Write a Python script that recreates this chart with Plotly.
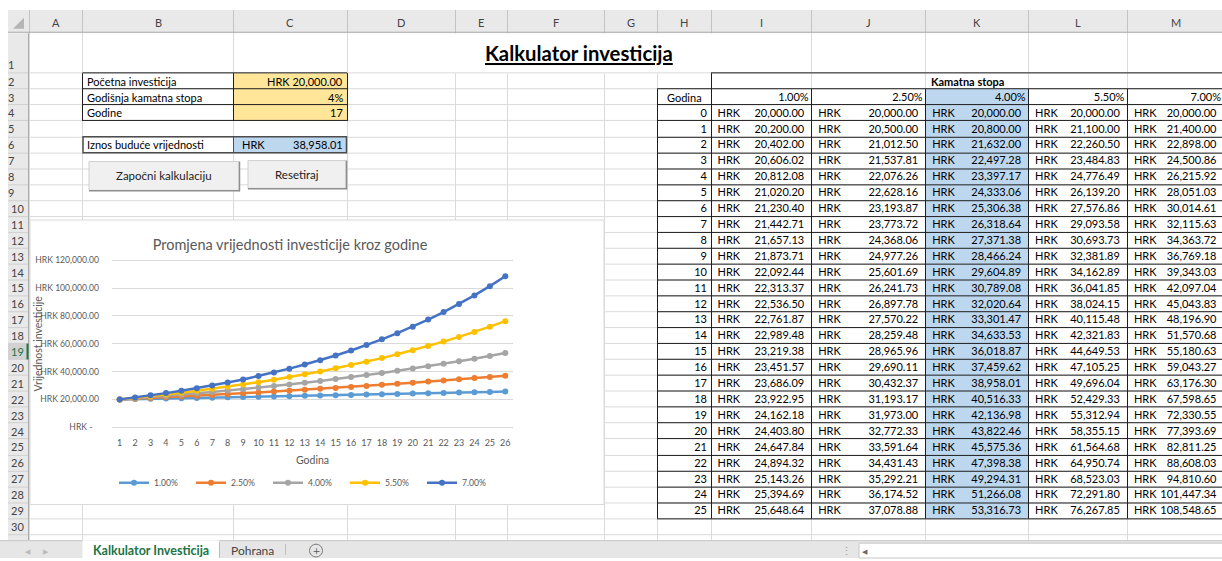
import plotly.graph_objects as go

W, H = 1222, 561

# ---------------- data ----------------
years = [0, 1, 2, 3, 4, 5, 6, 7, 8, 9, 10, 11, 12, 13, 14, 15, 16, 17, 18, 19, 20, 21, 22, 23, 24, 25]
chart_x = [1, 2, 3, 4, 5, 6, 7, 8, 9, 10, 11, 12, 13, 14, 15, 16, 17, 18, 19, 20, 21, 22, 23, 24, 25, 26]
rate_labels = ["1.00%", "2.50%", "4.00%", "5.50%", "7.00%"]

v100 = [20000.00, 20200.00, 20402.00, 20606.02, 20812.08, 21020.20, 21230.40, 21442.71, 21657.13,
        21873.71, 22092.44, 22313.37, 22536.50, 22761.87, 22989.48, 23219.38, 23451.57, 23686.09,
        23922.95, 24162.18, 24403.80, 24647.84, 24894.32, 25143.26, 25394.69, 25648.64]
v250 = [20000.00, 20500.00, 21012.50, 21537.81, 22076.26, 22628.16, 23193.87, 23773.72, 24368.06,
        24977.26, 25601.69, 26241.73, 26897.78, 27570.22, 28259.48, 28965.96, 29690.11, 30432.37,
        31193.17, 31973.00, 32772.33, 33591.64, 34431.43, 35292.21, 36174.52, 37078.88]
v400 = [20000.00, 20800.00, 21632.00, 22497.28, 23397.17, 24333.06, 25306.38, 26318.64, 27371.38,
        28466.24, 29604.89, 30789.08, 32020.64, 33301.47, 34633.53, 36018.87, 37459.62, 38958.01,
        40516.33, 42136.98, 43822.46, 45575.36, 47398.38, 49294.31, 51266.08, 53316.73]
v550 = [20000.00, 21100.00, 22260.50, 23484.83, 24776.49, 26139.20, 27576.86, 29093.58, 30693.73,
        32381.89, 34162.89, 36041.85, 38024.15, 40115.48, 42321.83, 44649.53, 47105.25, 49696.04,
        52429.33, 55312.94, 58355.15, 61564.68, 64950.74, 68523.03, 72291.80, 76267.85]
v700 = [20000.00, 21400.00, 22898.00, 24500.86, 26215.92, 28051.03, 30014.61, 32115.63, 34363.72,
        36769.18, 39343.03, 42097.04, 45043.83, 48196.90, 51570.68, 55180.63, 59043.27, 63176.30,
        67598.65, 72330.55, 77393.69, 82811.25, 88608.03, 94810.60, 101447.34, 108548.65]
series = [v100, v250, v400, v550, v700]

y_tick_vals = [0, 20000, 40000, 60000, 80000, 100000, 120000]
y_tick_text = ["HRK -\u00a0\u00a0\u00a0", "HRK 20,000.00", "HRK 40,000.00", "HRK 60,000.00",
               "HRK 80,000.00", "HRK 100,000.00", "HRK 120,000.00"]

input_labels = ["Početna investicija", "Godišnja kamatna stopa", "Godine"]
input_values = ["HRK 20,000.00", "4%", "17"]
result_label = "Iznos buduće vrijednosti"
result_value = "38,958.01"

col_letters = ["A", "B", "C", "D", "E", "F", "G", "H", "I", "J", "K", "L", "M"]

# ---------------- geometry / style ----------------
FONT = "Lato, 'Open Sans', sans-serif"
series_colors = ["#5B9BD5", "#ED7D31", "#A5A5A5", "#FFC000", "#4472C4"]
col_edges = [29, 82.5, 233.5, 347, 455, 507.5, 604, 657, 711, 811.7, 925.7, 1028.6, 1127.4, 1224]
HDR_TOP, HDR_BOT = 8, 31.5
TAB_TOP = 543
GRID = "#DADADA"
HDR_BG = "#E9E9E9"


def rb(r):
    return 71.8 + (r - 1) * 16.05


def rt(r):
    return HDR_BOT if r == 1 else rb(r - 1)


def rm(r):
    return (rt(r) + rb(r)) / 2


def P(x):
    return x / W


def Q(y):
    return 1 - y / H


shapes = []


def rect(x0, y0, x1, y1, fill=None, line=None, lw=1):
    shapes.append(dict(type="rect", xref="paper", yref="paper", layer="below",
                       x0=P(x0), x1=P(x1), y0=Q(y1), y1=Q(y0),
                       fillcolor=fill or "rgba(0,0,0,0)",
                       line=dict(color=line or "rgba(0,0,0,0)", width=lw if line else 0)))


def snap(v):
    return int(v) + 0.5


def hline(x0, x1, y, color, lw=1):
    y = snap(y)
    shapes.append(dict(type="line", xref="paper", yref="paper", layer="below",
                       x0=P(x0), x1=P(x1), y0=Q(y), y1=Q(y), line=dict(color=color, width=lw)))


def vline(x, y0, y1, color, lw=1):
    x = snap(x)
    shapes.append(dict(type="line", xref="paper", yref="paper", layer="below",
                       x0=P(x), x1=P(x), y0=Q(y0), y1=Q(y1), line=dict(color=color, width=lw)))


annotations = []


def text(x, y, s, size=11, color="#000000", anchor="left", bold=False, angle=0):
    if bold:
        s = "<b>" + s + "</b>"
    annotations.append(dict(xref="x2", yref="y2", x=x, y=y, text=s, showarrow=False,
                            xanchor=anchor, yanchor="middle", textangle=angle,
                            font=dict(family=FONT, size=size, color=color), borderpad=0))


# ---- headers ----
rect(8, HDR_TOP, W, HDR_BOT, HDR_BG)
rect(8, HDR_BOT, 29, TAB_TOP, HDR_BG)
rect(8, rt(19), 29, rb(19), "#D2D2D2")

# ---- gridlines ----
for r in range(1, 32):
    hline(29, W, rb(r), GRID)
for i, x in enumerate(col_edges):
    if 347 < x < 811:
        vline(x, rb(1), TAB_TOP, GRID)
    else:
        vline(x, HDR_BOT, TAB_TOP, GRID)

# header separators
for x in col_edges:
    vline(x, HDR_TOP, HDR_BOT, "#C4C4C4")
hline(8, W, HDR_BOT - 1, "#ABABAB")
vline(28, HDR_BOT, TAB_TOP, "#ABABAB")
for r in range(1, 32):
    hline(8, 28, rb(r), "#D0D0D0")
vline(27.5, rt(19), rb(19), "#217346", 2)
shapes.append(dict(type="path", xref="paper", yref="paper", layer="below",
                   path="M {0} {1} L {0} {2} L {3} {2} Z".format(P(24), Q(16), Q(27), P(13)),
                   fillcolor="#B5B5B5", line=dict(width=0)))

# ---- fills ----
rect(233.5, rt(2), 347, rb(4), "#FFE699")
rect(233.5, rt(6), 347, rb(6), "#BDD7EE")
rect(925.7, rt(3), 1028.6, rb(29), "#BDD7EE")

# ---- borders: input block ----
BLK = "#1E1E1E"
for r in (2, 3, 4):
    hline(82.5, 347, rt(r), BLK)
hline(82.5, 347, rb(4), BLK)
for x in (82.5, 233.5, 347):
    vline(x, rt(2), rb(4), BLK)
rect(83, rt(6), 346.5, rb(6), None, "#4D4D4D", 1.5)
vline(233.5, rt(6), rb(6), "#4D4D4D")

# ---- borders: table ----
hline(711, W, rt(2), BLK)
for r in range(3, 30):
    hline(657, W, rt(r), BLK)
hline(657, W, rb(29), BLK)
vline(657, rt(3), rb(29), BLK)
vline(711, rt(2), rb(29), BLK)
for x in (811.7, 925.7, 1028.6, 1127.4):
    vline(x, rt(3), rb(29), BLK)

# ---- buttons ----
for (x0, y0, x1, y1) in [(89, 161, 239, 190), (248, 160, 346, 188)]:
    rect(x0, y0, x1, y1, "#F0F0F0", "#CFCFCF", 1)
    hline(x0, x1 + 1, y1, "#8F8F8F", 1.5)
    vline(x1, y0, y1 + 1, "#8F8F8F", 1.5)

# ---- chart area ----
rect(30, 220, 604, 507, "#FFFFFF", "#D9D9D9", 1)

# ---- sheet tab bar ----
rect(0, TAB_TOP, W, H, "#E6E6E6")
hline(0, W, TAB_TOP, "#C8C8C8")
rect(82.5, TAB_TOP, 219, H, "#FFFFFF")
vline(219, TAB_TOP + 2, H, "#BDBDBD")
vline(285, TAB_TOP + 4, H - 3, "#BDBDBD")
shapes.append(dict(type="circle", xref="paper", yref="paper", layer="below",
                   x0=P(309.5), x1=P(322.5), y0=Q(560), y1=Q(547),
                   line=dict(color="#7A7A7A", width=1), fillcolor="rgba(0,0,0,0)"))
rect(859, 546, W + 2, H, "#FFFFFF", "#C6C6C6", 1)

# ---------------- texts ----------------
# column letters
for i, c in enumerate(col_letters):
    text((col_edges[i] + col_edges[i + 1]) / 2, 20.5, c, 11, "#444444", "center")
# row numbers
for r in range(1, 31):
    yy = rb(1) - 9 if r == 1 else rm(r)
    xx = 11 if r < 10 else 17.5
    text(xx, yy, str(r), 11, "#217346" if r == 19 else "#444444", "center")

# title
text(579, 51, "<span style='text-decoration:underline'>Kalkulator investicija</span>",
     20.3, "#000000", "center", bold=True)

# input block
for i, (lab, val) in enumerate(zip(input_labels, input_values)):
    text(86, rm(2 + i), lab, 11)
    text(344, rm(2 + i), val, 11, anchor="right")
text(86, rm(6), result_label, 11)
text(241, rm(6), "HRK", 11)
text(344, rm(6), result_value, 11, anchor="right")

# buttons
text(164, 175.5, "Započni kalkulaciju", 11.5, "#222222", "center")
text(297, 174, "Resetiraj", 11.5, "#222222", "center")

# table headers
text(967.5, rm(2), "Kamatna stopa", 11, anchor="center", bold=True)
text(684, rm(3), "Godina", 11, anchor="center")

# tabs
text(150.5, 553.5, "Kalkulator Investicija", 12.5, "#217346", "center", bold=True)
text(252, 553.5, "Pohrana", 12, "#444444", "center")
text(316, 553, "+", 12, "#6A6A6A", "center")
text(28, 553.5, "◀", 7, "#BBBBBB", "center")
text(46, 553.5, "▶", 7, "#BBBBBB", "center")
text(846, 553.5, "⋮", 11, "#9A9A9A", "center")
text(865, 553.5, "◀", 7, "#6A6A6A", "center")

# chart y-axis title
text(37.5, 345, "Vrijednost investicije", 10.5, "#595959", "center", angle=-90)

fig = go.Figure()

# ---------------- chart ----------------
for lab, vals, col in zip(rate_labels, series, series_colors):
    fig.add_trace(go.Scatter(x=chart_x, y=vals, mode="lines+markers", name=lab,
                             line=dict(color=col, width=2.5),
                             marker=dict(size=6, color=col),
                             xaxis="x", yaxis="y", hoverinfo="skip"))

# ---------------- table cells ----------------
rate_cols = [(col_edges[8], col_edges[9]), (col_edges[9], col_edges[10]), (col_edges[10], col_edges[11]),
             (col_edges[11], col_edges[12]), (col_edges[12], col_edges[13])]
hx, hy, ht, nx, ny, nt = [], [], [], [], [], []
for (c0, c1), vals in zip(rate_cols, series):
    for yr, v in zip(years, vals):
        r = 4 + yr
        hx.append(c0 + 6.5)
        hy.append(rm(r) + 1)
        ht.append("HRK")
        nx.append(c1 - 7.5)
        ny.append(rm(r) + 1)
        nt.append(f"{v:,.2f}")

cell_font = dict(family=FONT, size=11, color="#000000")
fig.add_trace(go.Scatter(x=hx, y=hy, text=ht, mode="text", textposition="middle right",
                         textfont=cell_font, xaxis="x2", yaxis="y2", showlegend=False,
                         hoverinfo="skip", cliponaxis=False))
fig.add_trace(go.Scatter(x=nx, y=ny, text=nt, mode="text", textposition="middle left",
                         textfont=cell_font, xaxis="x2", yaxis="y2", showlegend=False,
                         hoverinfo="skip", cliponaxis=False))
fig.add_trace(go.Scatter(x=[707] * len(years), y=[rm(4 + yr) + 1 for yr in years],
                         text=[str(yr) for yr in years], mode="text", textposition="middle left",
                         textfont=cell_font, xaxis="x2", yaxis="y2", showlegend=False,
                         hoverinfo="skip", cliponaxis=False))
fig.add_trace(go.Scatter(x=[c1 - 3 for (c0, c1) in rate_cols], y=[rm(3) + 1] * 5,
                         text=rate_labels, mode="text", textposition="middle left",
                         textfont=cell_font, xaxis="x2", yaxis="y2", showlegend=False,
                         hoverinfo="skip", cliponaxis=False))

# y mapping: 0 -> 429 px, 120000 -> 260.7 px
per_px = 120000 / (429 - 260.7)
y_bot_px, y_top_px = 431, 258
y_range = [0 - (y_bot_px - 429) * per_px, 120000 + (260.7 - y_top_px) * per_px]

axis_font = dict(family=FONT, size=8.6, color="#595959")
fig.update_layout(
    width=W, height=H, margin=dict(l=0, r=0, t=0, b=0, pad=0),
    paper_bgcolor="#FFFFFF", plot_bgcolor="rgba(0,0,0,0)",
    font=dict(family=FONT),
    title=dict(text="Promjena vrijednosti investicije kroz godine", x=P(290), y=Q(245),
               xanchor="center", yanchor="middle",
               font=dict(family=FONT, size=14.5, color="#595959")),
    xaxis=dict(domain=[P(112), P(513)], range=[0.5, 26.5], tickmode="array",
               tickvals=chart_x, ticktext=[str(v) for v in chart_x],
               showgrid=False, zeroline=False, showline=False, ticks="",
               tickfont=dict(family=FONT, size=9, color="#595959"), ticklabelstandoff=7,
               anchor="y", fixedrange=True,
               title=dict(text="Godina", standoff=9,
                          font=dict(family=FONT, size=10.5, color="#595959"))),
    yaxis=dict(domain=[Q(y_bot_px), Q(y_top_px)], range=y_range, tickmode="array",
               tickvals=y_tick_vals, ticktext=y_tick_text,
               showgrid=True, gridcolor="#D9D9D9", gridwidth=1, zeroline=False,
               showline=False, ticks="", tickfont=axis_font, ticklabelstandoff=12,
               anchor="x", fixedrange=True),
    xaxis2=dict(domain=[0, 1], range=[0, W], visible=False, anchor="y2", fixedrange=True),
    yaxis2=dict(domain=[0, 1], range=[H, 0], visible=False, anchor="x2", fixedrange=True),
    showlegend=True,
    legend=dict(orientation="h", x=P(114), y=Q(485), xanchor="left", yanchor="middle",
                entrywidth=32, entrywidthmode="pixels", bgcolor="rgba(0,0,0,0)",
                borderwidth=0, font=dict(family=FONT, size=8.6, color="#595959"),
                itemclick=False, itemdoubleclick=False),
    shapes=shapes,
    annotations=annotations,
)

fig.write_html("out.html", config={"displayModeBar": False, "staticPlot": True},
               post_script="document.body.style.margin='0';document.body.style.overflow='hidden';")
